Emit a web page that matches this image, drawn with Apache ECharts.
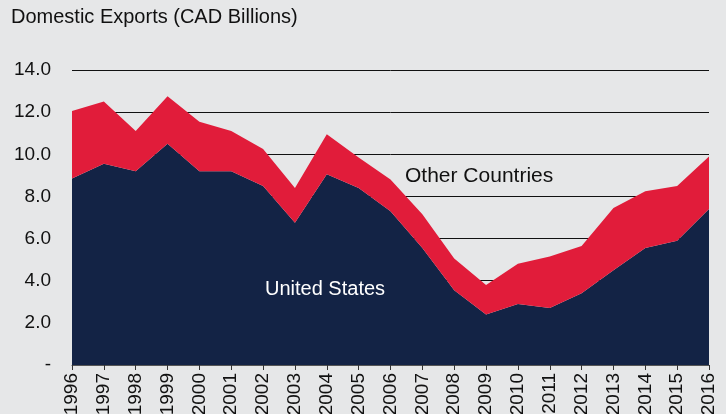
<!DOCTYPE html>
<html>
<head>
<meta charset="utf-8">
<script src="https://cdn.jsdelivr.net/npm/echarts@6/dist/echarts.min.js"></script>
<style>
  html, body { margin: 0; padding: 0; background: #e6e7e8; }
  #chart { width: 726px; height: 414px; }
</style>
</head>
<body>
<div id="chart"></div>
<script>
// 年份
const years = ['1996', '1997', '1998', '1999', '2000', '2001', '2002', '2003', '2004', '2005', '2006',
  '2007', '2008', '2009', '2010', '2011', '2012', '2013', '2014', '2015', '2016']
// United States
const usValues = [8.85, 9.55, 9.2, 10.5, 9.2, 9.2, 8.5, 6.75, 9.05, 8.4, 7.3,
  5.55, 3.55, 2.4, 2.9, 2.7, 3.4, 4.5, 5.55, 5.9, 7.4]
// Other Countries (stacked on top of US)
const otherValues = [3.2, 2.95, 1.9, 2.25, 2.35, 1.9, 1.75, 1.65, 1.9, 1.45, 1.5,
  1.6, 1.5, 1.4, 1.9, 2.45, 2.25, 2.95, 2.7, 2.6, 2.5]
const yTicks = { min: 0, max: 14, interval: 2 }

const chart = echarts.init(document.getElementById('chart'))
const font = '"Liberation Sans", Arial, sans-serif'

const option = {
  backgroundColor: '#e6e7e8',
  animation: false,
  textStyle: { fontFamily: font },
  grid: {
    left: 72,
    right: 17,
    top: 70,
    bottom: 49,
    containLabel: false,
    outerBoundsMode: 'none',
  },
  graphic: [
    {
      type: 'text',
      left: 11,
      top: 7,
      z: 100,
      style: { text: 'Domestic Exports (CAD Billions)', fontSize: 20, fontFamily: font, fill: '#111' },
    },
    {
      type: 'text',
      left: 265,
      top: 279,
      z: 100,
      style: { text: 'United States', fontSize: 20, fontFamily: font, fill: '#ffffff' },
    },
    {
      type: 'text',
      left: 405,
      top: 166,
      z: 100,
      style: { text: 'Other Countries', fontSize: 21, fontFamily: font, fill: '#111' },
    },
  ],
  xAxis: {
    type: 'category',
    boundaryGap: false,
    data: years,
    axisLine: { show: true, lineStyle: { color: '#555', width: 1 } },
    axisTick: { show: true, length: 5, lineStyle: { color: '#333' } },
    axisLabel: {
      rotate: 90,
      color: '#111',
      fontSize: 19,
      margin: 8,
      interval: 0,
    },
  },
  yAxis: {
    type: 'value',
    min: yTicks.min,
    max: yTicks.max,
    interval: yTicks.interval,
    axisLine: { show: false },
    axisTick: { show: false },
    splitLine: { lineStyle: { color: '#111', width: 1 } },
    axisLabel: {
      color: '#111',
      fontSize: 19,
      margin: 21,
      formatter: function (v) {
        return v === 0 ? '-' : v.toFixed(1)
      },
    },
  },
  series: [
    {
      name: 'United States',
      type: 'line',
      stack: 'total',
      data: usValues,
      symbol: 'none',
      lineStyle: { width: 0 },
      areaStyle: { color: '#132345', opacity: 1 },
    },
    {
      name: 'Other Countries',
      type: 'line',
      stack: 'total',
      data: otherValues,
      symbol: 'none',
      lineStyle: { width: 0 },
      areaStyle: { color: '#e11c3a', opacity: 1 },
    },
  ],
}
chart.setOption(option)
</script>
</body>
</html>
